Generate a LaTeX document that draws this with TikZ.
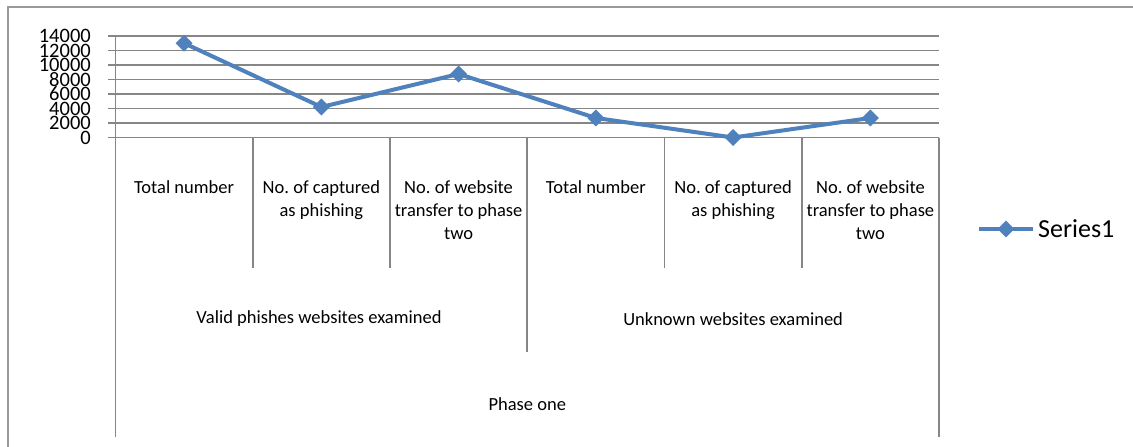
\documentclass[tikz,border=0pt]{standalone}
\usepackage{fontspec}
\setmainfont{Carlito}
\usetikzlibrary{shapes.geometric}
\definecolor{serblue}{HTML}{4F81BD}
\definecolor{gridgray}{HTML}{868686}
\definecolor{framegray}{HTML}{9A9A9A}
\frenchspacing
\tikzset{
  grid line/.style={draw=gridgray, line width=1.6pt},
  series line/.style={draw=serblue, line width=4pt, line join=round},
  marker/.style={diamond, fill=serblue, inner sep=0pt, minimum width=17pt, minimum height=17pt},
  catlabel/.style={anchor=north, align=center, inner sep=0pt, font=\fontsize{18.5}{23}\selectfont},
  grplabel/.style={anchor=center, inner sep=0pt, font=\fontsize{18.5}{23}\selectfont},
  ylabel/.style={anchor=east, inner sep=0pt, font=\fontsize{20.5}{20}\selectfont},
}
\begin{document}
\begin{tikzpicture}[x=1pt, y=-1pt]
\useasboundingbox (0,0) rectangle (1133,447);
\fill[white] (0,0) rectangle (1133,447);
\begin{scope}
\clip (0,0) rectangle (1133,447);
\draw[framegray, line width=2pt] (8,7) rectangle (1150,470);
\end{scope}
% gridlines and y labels
\foreach \v [count=\i from 0] in {0,2000,4000,6000,8000,10000,12000,14000}{
  \pgfmathsetmacro{\yy}{137.5-\i*14.5}
  \draw[grid line] (108,\yy) -- (939,\yy);
  \node[ylabel] (yl\i) at (91,\yy) {\v};
}
% vertical axis and category dividers
\draw[grid line] (115.5,36) -- (115.5,437);
\draw[grid line] (939,137.5) -- (939,437);
\draw[grid line] (527.25,137.5) -- (527.25,352);
\foreach \x in {252.75,390,664.5,801.75}{
  \draw[grid line] (\x,137.5) -- (\x,268);
}
% category labels
\node[catlabel] (c1) at (184.1,180.5) {Total number};
\node[catlabel] (c2) at (321.4,180.5) {No. of captured\\as phishing};
\node[catlabel] (c3) at (458.6,180.5) {No. of website\\transfer to phase\\two};
\node[catlabel] (c4) at (595.9,180.5) {Total number};
\node[catlabel] (c5) at (733.1,180.5) {No. of captured\\as phishing};
\node[catlabel] (c6) at (870.4,180.5) {No. of website\\transfer to phase\\two};
\node[grplabel] (g1) at (319,319) {Valid phishes websites examined};
\node[grplabel] (g2) at (733.1,319) {Unknown websites examined};
\node[grplabel] (g3) at (527.25,404) {Phase one};
% data
\coordinate (p1) at (184.1,43.2);
\coordinate (p2) at (321.4,107);
\coordinate (p3) at (458.6,74);
\coordinate (p4) at (595.9,118);
\coordinate (p5) at (733.1,137.5);
\coordinate (p6) at (870.4,118);
\draw[series line] (p1) -- (p2) -- (p3) -- (p4) -- (p5) -- (p6);
\foreach \p in {p1,p2,p3,p4,p5,p6}{
  \node[marker] at (\p) {};
}
% legend
\coordinate (la) at (979,229);
\coordinate (lb) at (1033,229);
\draw[series line] (la) -- (lb);
\node[marker] (lm) at (1006,229) {};
\node[anchor=west, inner sep=0pt, font=\fontsize{26}{26}\selectfont] (lt) at (1038,229) {Series1};
\end{tikzpicture}
\end{document}
